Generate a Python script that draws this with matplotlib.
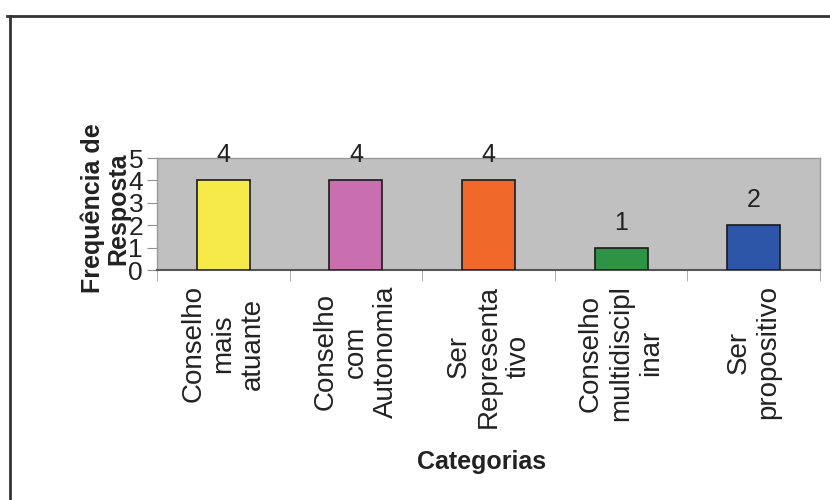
import matplotlib.pyplot as plt
from matplotlib.lines import Line2D

plt.rcParams['font.family'] = ['Liberation Sans', 'DejaVu Sans']

categorias = ["Conselho\nmais\natuante", "Conselho\ncom\nAutonomia", "Ser\nRepresenta\ntivo",
              "Conselho\nmultidiscipl\ninar", "Ser\npropositivo"]
frequencia = [4, 4, 4, 1, 2]
cores = ["#f5ea48", "#c96eae", "#f0692b", "#2f9346", "#2e56a8"]

fig = plt.figure(figsize=(8.3, 5), dpi=100)
ax = fig.add_axes([157 / 830, 1 - 270 / 500, (820 - 157) / 830, (270 - 158) / 500])
ax.set_facecolor("#c0c0c0")

x = list(range(len(categorias)))
bars = ax.bar(x, frequencia, width=0.4, color=cores, edgecolor="#1a1a1a", linewidth=1.2, zorder=3)

for xi, v in zip(x, frequencia):
    ax.annotate(str(v), (xi, v), xytext=(0, 18), textcoords="offset points",
                ha="center", va="center", fontsize=18, color="#222222", annotation_clip=False)

ax.set_xlim(-0.5, len(categorias) - 0.5)
ax.set_ylim(0, 5)
ax.set_yticks(range(0, 6))
ax.tick_params(axis="y", labelsize=19, length=7, color="#909090", pad=3, labelcolor="#222222")

ax.set_xticks(x)
ax.set_xticklabels(categorias, rotation=90, fontsize=20, va="top", ha="center",
                   multialignment="center", color="#222222", linespacing=1.2)
ax.tick_params(axis="x", which="major", length=0, pad=11)
ax.set_xticks([i + 0.5 for i in range(-1, len(categorias))], minor=True)
ax.tick_params(axis="x", which="minor", length=8, color="#a0a0a0")

for s in ["top", "right", "left"]:
    ax.spines[s].set_color("#9a9a9a")
    ax.spines[s].set_linewidth(1)
ax.spines["bottom"].set_color("#555555")
ax.spines["bottom"].set_linewidth(1.5)

ax.set_xlabel("Categorias", fontsize=18, fontweight="bold", color="#222222")
ax.xaxis.set_label_coords(0.49, -1.71)
ax.xaxis.label.set_va("center")

ax.set_ylabel("Frequência de\nResposta", fontsize=18, fontweight="bold", color="#222222",
              linespacing=1.05)
ax.yaxis.set_label_coords(-0.078, 0.55)
ax.yaxis.label.set_va("center")

# moldura (só topo e esquerda visíveis no recorte)
fig.add_artist(Line2D([7 / 830, 1], [1 - 16 / 500] * 2, color="#333333", linewidth=2,
                      transform=fig.transFigure))
fig.add_artist(Line2D([10 / 830] * 2, [0, 1 - 16 / 500], color="#333333", linewidth=2,
                      transform=fig.transFigure))

fig.savefig("out.png", dpi=100, facecolor="white")
